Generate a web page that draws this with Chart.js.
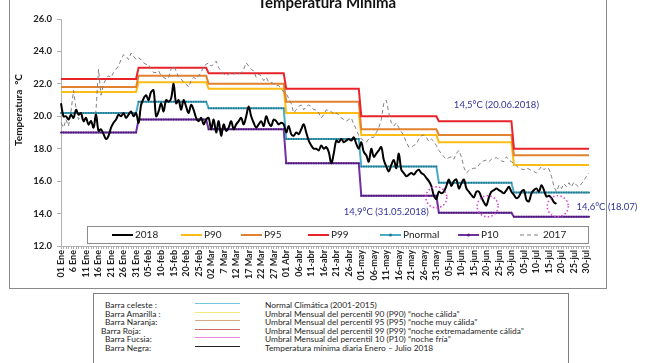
<!DOCTYPE html>
<html>
<head>
<meta charset="utf-8">
<script src="https://cdn.jsdelivr.net/npm/chart.js@4"></script>
<style>
  body { margin: 0; width: 645px; height: 363px; overflow: hidden; background: #fff; font-family: Lato, 'Open Sans', sans-serif; position: relative; }
  #frame { position: absolute; left: 9px; top: -2px; width: 596px; height: 289px; border: 1px solid #8a8a8a; }
  #chart { position: absolute; left: 0; top: 0; }
  #title { position: absolute; left: 127px; width: 400px; top: -5px; text-align: center; font: bold 15px Lato, sans-serif; line-height: 15px; color: #111; }
  #ytitle { position: absolute; left: 18px; top: 110px; transform: translate(-50%, -50%) rotate(-90deg); white-space: nowrap; font: bold 10px Lato, sans-serif; color: #111; }
  #table { position: absolute; left: 93px; top: 293px; width: 474px; height: 90px; border: 1px solid #7f7f7f; }
  .row { position: absolute; font: 8.4px Lato, sans-serif; color: #262626; white-space: nowrap; line-height: 8px; }
  .swatch { position: absolute; height: 1px; width: 45px; }
</style>
</head>
<body>
<div id="frame"></div>
<canvas id="chart" width="645" height="290"></canvas>
<div id="title">Temperatura Mínima</div>
<div id="ytitle">Temperatura &nbsp;°C</div>
<div id="table"></div>
<script>
const TICK_LABELS = ['01 Ene', '6 Ene', '11 Ene', '16 Ene', '21 Ene', '26 Ene', '31 Ene',
  '05-feb', '10-feb', '15-feb', '20-feb', '25-feb', '02 Mar', '7 Mar', '12 Mar', '17 Mar',
  '22 Mar', '27 Mar', '01 Abr', '06-abr', '11-abr', '16-abr', '21-abr', '26-abr', '01-may',
  '06-may', '11-may', '16-may', '21-may', '26-may', '31-may', '05-jun', '10-jun', '15-jun',
  '20-jun', '25-jun', '30-jun', '05-jul', '10-jul', '15-jul', '20-jul', '25-jul', '30-jul'];

const MONTH_DAYS = [31, 28, 31, 30, 31, 30, 31];

// monthly thresholds (Ene..Jul)
const P99 = [22.3, 23.0, 22.65, 21.7, 20.0, 19.7, 18.0];
const P95 = [21.8, 22.5, 22.0, 20.9, 19.2, 18.85, 17.6];
const P90 = [21.5, 22.1, 21.7, 20.2, 18.85, 18.4, 17.0];
const PNORMAL = [20.2, 20.9, 20.5, 18.6, 16.9, 15.9, 15.3];
const P10 = [19.0, 19.8, 19.2, 17.1, 15.1, 14.05, 13.8];

// daily minimum 2018 (01 Ene .. 18 Jul)
const T2018 = [
  20.8, 20.0, 20.0, 19.8, 20.1, 19.9, 20.4, 20.1, 20.2, 19.7, 19.9, 19.5, 19.7, 19.3, 20.1, 19.1,
  19.2, 18.9, 18.6, 18.8, 19.3, 19.6, 19.8, 20.1, 20.0, 20.2, 19.9, 20.1, 20.3, 20.0, 20.2,
  19.6, 20.7, 21.1, 21.3, 21.0, 21.5, 21.6, 20.0, 20.3, 20.8, 20.3, 21.0, 20.9, 21.1, 22.0, 20.8,
  21.0, 20.4, 21.0, 20.6, 20.2, 20.7, 20.4, 19.9, 19.7, 19.9, 19.5, 19.8,
  19.9, 19.2, 19.8, 19.0, 19.7, 18.8, 19.5, 19.1, 19.3, 19.7, 19.2, 19.5, 19.7, 19.9, 19.5, 20.0,
  20.6, 20.0, 19.6, 19.3, 19.5, 19.7, 19.4, 20.0, 19.6, 19.4, 19.8, 19.7, 19.5, 19.6, 19.5,
  19.0, 19.4, 18.9, 18.8, 19.0, 18.9, 19.2, 19.5, 19.0, 18.5, 18.2, 18.0, 18.0, 17.9, 18.2, 18.0,
  18.1, 17.8, 17.1, 17.7, 18.5, 18.4, 18.6, 18.4, 18.5, 18.6, 18.5, 18.7, 18.3, 18.0,
  18.4, 17.8, 17.6, 17.2, 18.0, 17.5, 17.7, 17.9, 18.1, 17.3, 16.9, 16.6, 17.0, 17.3, 16.8, 17.7,
  16.7, 16.5, 16.3, 16.4, 16.5, 16.4, 16.6, 16.7, 16.5, 16.4, 16.2, 16.0, 15.7, 15.1, 14.9,
  15.35, 15.25, 15.35, 15.7, 16.1, 15.7, 16.0, 16.1, 15.55, 15.85, 16.1, 15.55, 15.35, 15.15, 15.0,
  15.35, 15.35, 15.0, 14.7, 14.5, 15.0, 15.35, 15.45, 15.55, 15.45, 15.35, 15.25, 15.45, 15.65, 15.35,
  15.15, 14.95, 15.05, 15.35, 15.45, 14.85, 14.75, 15.25, 15.45, 15.55, 15.35, 15.75, 15.45, 15.05,
  15.1, 14.95, 14.7, 14.6];

// daily minimum 2017 (01 Ene .. 31 Jul)
const T2017 = [
  19.6, 19.3, 19.8, 19.4, 20.3, 21.6, 20.5, 19.8, 20.0, 19.6, 19.9, 19.4, 19.8, 19.3, 20.4, 22.9,
  21.3, 22.0, 22.3, 22.5, 22.4, 22.7, 22.9, 23.1, 23.5, 23.8, 23.7, 23.5, 23.9, 23.7, 23.5,
  23.6, 23.5, 23.3, 23.2, 23.2, 22.9, 22.7, 22.7, 22.8, 22.5, 22.4, 22.3, 22.4, 22.9, 23.1, 22.8,
  22.4, 22.3, 22.1, 22.0, 21.8, 22.2, 22.4, 22.3, 22.5, 22.7, 23.1, 23.2,
  23.3, 23.1, 23.2, 23.4, 23.0, 22.8, 22.6, 22.5, 22.6, 22.7, 22.6, 22.7, 22.6, 22.7, 22.9, 23.3,
  23.1, 22.9, 22.8, 22.4, 22.6, 22.5, 22.2, 22.4, 22.1, 22.1, 22.0, 21.9, 21.9, 21.7, 21.5,
  21.4, 21.1, 20.8, 20.2, 20.4, 20.6, 20.7, 20.4, 20.6, 20.7, 20.6, 20.4, 20.4, 20.2, 19.9, 20.1,
  20.4, 20.35, 20.3, 20.1, 20.2, 20.1, 19.9, 19.8, 19.7, 19.8, 19.9, 19.5, 19.2, 18.8,
  18.6, 18.5, 18.4, 18.6, 18.7, 18.7, 19.0, 19.3, 19.8, 20.8, 21.0, 20.2, 19.6, 19.4, 19.6, 19.3,
  19.05, 18.8, 18.4, 18.1, 18.1, 18.2, 18.3, 18.6, 18.8, 18.85, 18.7, 18.45, 18.6, 18.45, 18.2,
  17.9, 17.7, 17.5, 17.35, 17.45, 17.5, 17.35, 17.7, 17.9, 17.5, 16.85, 16.5, 16.65, 16.75, 16.8,
  16.8, 17.0, 17.2, 17.25, 17.3, 17.2, 17.35, 17.4, 17.45, 17.35, 17.25, 17.2, 17.5, 17.3, 17.2,
  17.1, 16.95, 16.8, 16.75, 16.7, 16.8, 16.75, 16.65, 16.6, 16.5, 16.7, 16.9, 16.7, 16.85, 16.75,
  16.3, 15.65, 15.35, 15.75, 15.55, 15.85, 15.65, 15.9, 15.65, 15.95, 15.75, 15.65, 15.85, 16.05,
  16.3, 16.5];

// notes: [day index, value, text]
const NOTES = [
  [157, 20.7, '14,5°C (20.06.2018)'],
  [113, 14.1, '14,9°C (31.05.2018)'],
  [206, 14.4, '14,6°C (18.07)'],
];
const CIRCLES = [[150, 15.0], [170.5, 14.45], [198.5, 14.45]];

const TABLE_ROWS = [
  ['Barra celeste :', 'Normal Climática (2001-2015)'],
  ['Barra Amarilla :', 'Umbral Mensual del percentil 90 (P90) “noche cálida”'],
  ['Barra Naranja:', 'Umbral Mensual del percentil 95 (P95) “noche muy cálida”'],
  ['Barra Roja:', 'Umbral Mensual del percentil 99 (P99) “noche extremadamente cálida”'],
  ['Barra Fucsia:', 'Umbral Mensual del percentil 10 (P10) “noche fría”'],
  ['Barra Negra:', 'Temperatura mínima diaria  Enero – Julio 2018'],
];
const TABLE_COLORS = ['#72c6de', '#f3ec7c', '#d4a985', '#cf6b6b', '#e98ad9', '#222'];

function monthly(vals) {
  const out = [];
  vals.forEach((v, m) => {
    for (let i = 0; i < MONTH_DAYS[m]; i++) out.push(v);
  });
  return out;
}

const days = monthly(MONTH_DAYS.map(() => 0)).map((_, i) => i);

const C = {
  p99: '#e8242a', p95: '#e2812f', p90: '#fbbd16', pn: '#4bacc6', p10: '#7030a0',
};

function stepLine(label, vals, color, dots) {
  return {
    label, data: monthly(vals), borderColor: color, borderWidth: 2,
    pointRadius: dots ? 1 : 0, pointBackgroundColor: dots, pointBorderWidth: 0,
  };
}

const datasets = [
  { label: '2018', data: T2018, borderColor: '#000', borderWidth: 2, pointRadius: 0, tension: 0.35 },
  { label: '2017', data: T2017, borderColor: '#808080', borderWidth: 1, borderDash: [4, 3], pointRadius: 0 },
  stepLine('P99', P99, C.p99),
  stepLine('P95', P95, C.p95),
  stepLine('P90', P90, C.p90),
  stepLine('Pnormal', PNORMAL, C.pn, '#24798f'),
  stepLine('P10', P10, C.p10, '#4d1a78'),
];

// legend order as in the picture, with x start of each sample line
const LEGEND = [['2018', 112], ['P90', 181], ['P95', 241], ['P99', 308], ['Pnormal', 380], ['P10', 458], ['2017', 520]];

const overlay = {
  id: 'overlay',
  afterDraw(chart) {
    const { ctx } = chart;
    const x = chart.scales.x, y = chart.scales.y;
    ctx.save();
    // dotted circles
    ctx.strokeStyle = '#d64bd0';
    ctx.lineWidth = 1.6;
    ctx.setLineDash([1.5, 2.2]);
    CIRCLES.forEach(([d, v]) => {
      ctx.beginPath();
      ctx.arc(x.getPixelForValue(d), y.getPixelForValue(v), 10.5, 0, Math.PI * 2);
      ctx.stroke();
    });
    ctx.setLineDash([]);
    // notes
    ctx.fillStyle = '#33339a';
    ctx.font = '9.5px Lato, sans-serif';
    ctx.textBaseline = 'middle';
    NOTES.forEach(([d, v, t]) => ctx.fillText(t, x.getPixelForValue(d), y.getPixelForValue(v)));

    // legend box
    const top = 226, h = 17, left = 87, right = chart.chartArea.right - 1;
    ctx.fillStyle = '#fff';
    ctx.fillRect(left, top, right - left, h);
    ctx.strokeStyle = '#8c8c8c';
    ctx.lineWidth = 1;
    ctx.strokeRect(left + 0.5, top + 0.5, right - left, h);
    ctx.font = '10px Lato, sans-serif';
    const cy = top + h / 2 + 0.5;
    LEGEND.forEach(([name, lx]) => {
      const ds = chart.data.datasets.find((d) => d.label === name);
      ctx.strokeStyle = ds.borderColor;
      ctx.lineWidth = ds.borderWidth;
      ctx.setLineDash(ds.borderDash || []);
      ctx.beginPath();
      ctx.moveTo(lx, cy);
      ctx.lineTo(lx + 21, cy);
      ctx.stroke();
      ctx.setLineDash([]);
      if (ds.pointRadius) {
        ctx.fillStyle = ds.pointBackgroundColor;
        ctx.beginPath();
        ctx.arc(lx + 10.5, cy, 1.5, 0, Math.PI * 2);
        ctx.fill();
      }
      ctx.fillStyle = '#222';
      ctx.fillText(name, lx + 23, cy);
    });
    ctx.restore();
  },
};

new Chart(document.getElementById('chart'), {
  type: 'line',
  data: { labels: days, datasets },
  options: {
    responsive: false,
    animation: false,
    layout: { padding: { left: 10, right: 56, top: 19, bottom: 0 } },
    plugins: { legend: { display: false }, tooltip: { enabled: false } },
    scales: {
      x: {
        grid: { drawOnChartArea: false, tickLength: 3, color: '#b0b0b0' },
        border: { color: '#b0b0b0' },
        ticks: {
          autoSkip: false, maxRotation: 90, minRotation: 90, padding: 1,
          color: '#222', font: { family: 'Lato', weight: 'bold', size: 9 },
          callback: (v, i) => (i % 5 === 0 ? TICK_LABELS[i / 5] : ''),
        },
        afterFit: (s) => { s.height = 44; },
      },
      y: {
        min: 12, max: 26,
        grid: { drawOnChartArea: false, tickLength: 4, color: '#b0b0b0' },
        border: { color: '#b0b0b0' },
        ticks: {
          stepSize: 2, padding: 5, color: '#222',
          font: { family: 'Lato', weight: 'bold', size: 9.5 },
          callback: (v) => v.toFixed(1),
        },
        afterFit: (s) => { s.width = 51; },
      },
    },
  },
  plugins: [overlay],
});

// description table under the chart
const table = document.body;
TABLE_ROWS.forEach(([lab, desc], i) => {
  const yc = 305 + i * 8.6;
  const a = document.createElement('div');
  a.className = 'row';
  a.style.left = (i === 3 ? 101 : 105) + 'px';
  a.style.top = (yc - 4) + 'px';
  a.textContent = lab;
  const b = document.createElement('div');
  b.className = 'row';
  b.style.left = '265px';
  b.style.top = (yc - 4) + 'px';
  b.textContent = desc;
  const s = document.createElement('div');
  s.className = 'swatch';
  s.style.left = '195px';
  s.style.top = Math.round(yc - 2) + 'px';
  s.style.background = TABLE_COLORS[i];
  table.append(a, b, s);
});
</script>
</body>
</html>
